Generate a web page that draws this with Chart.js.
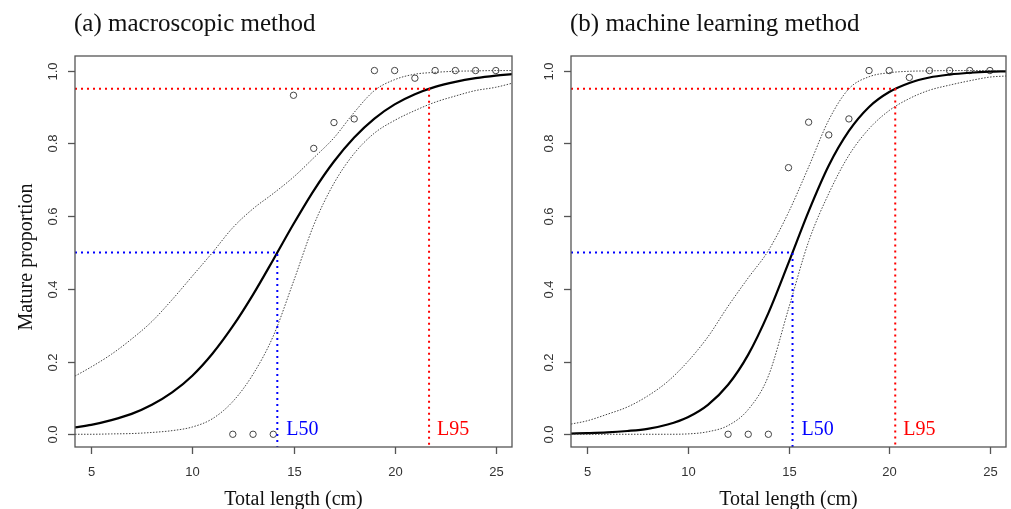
<!DOCTYPE html>
<html>
<head>
<meta charset="utf-8">
<script src="https://cdn.jsdelivr.net/npm/chart.js@4"></script>
<style>
  html, body { margin: 0; padding: 0; background: #fff; }
  #wrap { position: relative; width: 1011px; height: 509px; }
  #wrap canvas { position: absolute; left: 0; top: 0; }
</style>
</head>
<body>
<div id="wrap">
  <canvas id="panel-a" width="1011" height="509"></canvas>
  <canvas id="panel-b" width="1011" height="509"></canvas>
</div>
<script>
/* ── DATA ── */
const xTicks = [5, 10, 15, 20, 25];
const yTicks = [0, 0.2, 0.4, 0.6, 0.8, 1.0];
const yTickLabels = ['0.0', '0.2', '0.4', '0.6', '0.8', '1.0'];

const curveX = [4.2, 5, 6, 7, 8, 9, 10, 11, 12, 13, 14, 15, 16, 17, 18, 19, 20, 21, 22, 23, 24, 25, 25.8];

// observed proportions
const obsX = [12, 13, 14, 15, 16, 17, 18, 19, 20, 21, 22, 23, 24, 25];

// (a) macroscopic
const fitA   = [0.019, 0.026, 0.039, 0.056, 0.081, 0.115, 0.161, 0.222, 0.297, 0.384, 0.480, 0.578, 0.670, 0.750, 0.816, 0.868, 0.907, 0.935, 0.955, 0.969, 0.979, 0.986, 0.990];
const upperA = [0.160, 0.185, 0.220, 0.262, 0.310, 0.370, 0.435, 0.500, 0.568, 0.620, 0.662, 0.707, 0.760, 0.815, 0.885, 0.945, 0.975, 0.990, 0.995, 0.998, 0.999, 1.000, 1.000];
const lowerA = [0.000, 0.000, 0.001, 0.002, 0.005, 0.010, 0.020, 0.043, 0.090, 0.165, 0.270, 0.420, 0.575, 0.690, 0.772, 0.828, 0.863, 0.890, 0.913, 0.930, 0.945, 0.954, 0.965];
const obsA   = [0, 0, 0, 0.932, 0.786, 0.857, 0.867, 1, 1, 0.979, 1, 1, 1, 1];
const L50A = 14.2, L95A = 21.7;

// (b) machine learning
const fitB   = [0.002, 0.003, 0.005, 0.009, 0.015, 0.027, 0.047, 0.081, 0.136, 0.219, 0.333, 0.471, 0.613, 0.739, 0.834, 0.900, 0.941, 0.966, 0.981, 0.989, 0.994, 0.997, 0.998];
const upperB = [0.028, 0.037, 0.055, 0.075, 0.105, 0.145, 0.200, 0.268, 0.352, 0.430, 0.505, 0.610, 0.735, 0.864, 0.950, 0.983, 0.994, 0.998, 0.999, 1.000, 1.000, 1.000, 1.000];
const lowerB = [0.000, 0.000, 0.000, 0.000, 0.000, 0.000, 0.001, 0.007, 0.024, 0.068, 0.160, 0.345, 0.530, 0.662, 0.767, 0.840, 0.890, 0.923, 0.946, 0.960, 0.972, 0.982, 0.985];
const obsB   = [0, 0, 0, 0.733, 0.858, 0.823, 0.867, 1, 1, 0.981, 1, 1, 1, 1];
const L50B = 15.2, L95B = 20.3;

const X_MIN = 4.2, X_MAX = 25.8, Y_MIN = -0.035, Y_MAX = 1.04;

const SERIF = '"Liberation Serif", "Times New Roman", serif';
const SANS  = '"Liberation Sans", Arial, sans-serif';

function pts(xs, ys) { return xs.map((x, i) => ({ x: x, y: ys[i] })); }

/* ── DECORATION PLUGIN (box, ticks, labels) ── */
const decor = {
  id: 'decor',
  afterDraw(chart) {
    const o = chart.options.plugins.decor;
    const { ctx, chartArea: a, scales: { x, y } } = chart;
    ctx.save();

    // box
    ctx.strokeStyle = '#555';
    ctx.lineWidth = 1.3;
    ctx.strokeRect(a.left, a.top, a.right - a.left, a.bottom - a.top);

    // x ticks
    ctx.fillStyle = '#333';
    ctx.font = '13px ' + SANS;
    ctx.textAlign = 'center';
    ctx.textBaseline = 'middle';
    xTicks.forEach(v => {
      const px = Math.round(x.getPixelForValue(v)) + 0.5;
      ctx.beginPath(); ctx.moveTo(px, a.bottom); ctx.lineTo(px, a.bottom + 7); ctx.stroke();
      ctx.fillText(String(v), px, a.bottom + 25);
    });

    // y ticks (rotated like R)
    yTicks.forEach((v, i) => {
      const py = Math.round(y.getPixelForValue(v)) + 0.5;
      ctx.beginPath(); ctx.moveTo(a.left, py); ctx.lineTo(a.left - 7, py); ctx.stroke();
      ctx.save();
      ctx.translate(a.left - 22, py);
      ctx.rotate(-Math.PI / 2);
      ctx.fillText(yTickLabels[i], 0, 0);
      ctx.restore();
    });

    // titles
    ctx.fillStyle = '#111';
    ctx.font = '25px ' + SERIF;
    ctx.textAlign = 'left';
    ctx.textBaseline = 'alphabetic';
    ctx.fillText(o.title, a.left - 1, 31);

    ctx.font = '20px ' + SERIF;
    ctx.textAlign = 'center';
    ctx.fillText('Total length (cm)', (a.left + a.right) / 2, 505);

    if (o.yLabel) {
      ctx.save();
      ctx.translate(32, 257);
      ctx.rotate(-Math.PI / 2);
      ctx.fillText(o.yLabel, 0, 0);
      ctx.restore();
    }

    // L50 / L95 labels
    ctx.textAlign = 'left';
    ctx.textBaseline = 'middle';
    const ly = y.getPixelForValue(0) - 5;
    ctx.fillStyle = '#0000ff';
    ctx.fillText('L50', x.getPixelForValue(o.l50) + 9, ly);
    ctx.fillStyle = '#ff0000';
    ctx.fillText('L95', x.getPixelForValue(o.l95) + 8, ly);

    ctx.restore();
  }
};

/* ── PANEL ── */
function makePanel(id, title, yLabel, fit, upper, lower, obs, l50, l95, pad) {
  const ciStyle = { borderColor: '#444', borderWidth: 1, borderDash: [1.5, 1.5], pointRadius: 0, showLine: true, cubicInterpolationMode: 'monotone' };
  new Chart(document.getElementById(id), {
    type: 'scatter',
    data: {
      datasets: [
        { data: [{ x: X_MIN, y: 0.95 }, { x: l95, y: 0.95 }, { x: l95, y: Y_MIN }],
          borderColor: '#ff0000', borderWidth: 2, borderDash: [2, 4], pointRadius: 0, showLine: true },
        { data: [{ x: X_MIN, y: 0.5 }, { x: l50, y: 0.5 }, { x: l50, y: Y_MIN }],
          borderColor: '#0000ff', borderWidth: 2, borderDash: [2, 4], pointRadius: 0, showLine: true },
        Object.assign({ data: pts(curveX, upper) }, ciStyle),
        Object.assign({ data: pts(curveX, lower) }, ciStyle),
        { data: pts(curveX, fit), borderColor: '#000', borderWidth: 2.2, pointRadius: 0,
          showLine: true, cubicInterpolationMode: 'monotone' },
        { data: pts(obsX, obs), borderColor: '#444', borderWidth: 1, backgroundColor: 'transparent',
          pointRadius: 3.2, showLine: false }
      ]
    },
    options: {
      responsive: false,
      animation: false,
      events: [],
      layout: { padding: pad },
      plugins: {
        legend: { display: false },
        tooltip: { enabled: false },
        decor: { title: title, yLabel: yLabel, l50: l50, l95: l95 }
      },
      scales: {
        x: { type: 'linear', min: X_MIN, max: X_MAX, display: false },
        y: { type: 'linear', min: Y_MIN, max: Y_MAX, display: false }
      }
    },
    plugins: [decor]
  });
}

/* ── INIT ── */
makePanel('panel-a', '(a) macroscopic method', 'Mature proportion',
  fitA, upperA, lowerA, obsA, L50A, L95A, { left: 75, right: 499, top: 56, bottom: 62 });
makePanel('panel-b', '(b) machine learning method', null,
  fitB, upperB, lowerB, obsB, L50B, L95B, { left: 571, right: 3, top: 56, bottom: 62 });
</script>
</body>
</html>
